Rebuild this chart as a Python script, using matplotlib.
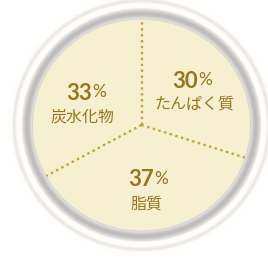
"""Nutrient balance pie (PFC ratio) with a bevelled plate rim."""

import matplotlib
matplotlib.use("Agg")
import matplotlib.pyplot as plt
import numpy as np
from matplotlib.patches import Ellipse

# clockwise from 12 o'clock
LABELS = ["たんぱく質", "脂質", "炭水化物"]
VALUES = [30, 37, 33]

CREAM = "#f6f0d0"
GOLD = "#957620"
DOT = "#c2a23a"

W, H = 268, 259
CX, CY = 141.5, 125.0          # disc centre, pixels from top-left
RX, RY = 108.5, 105.5          # disc half-axes

# label anchor points in pixels (number centre, name centre)
LABEL_POS = {
    "たんぱく質": ((191, 81), (194, 104)),
    "脂質": ((147, 180), (147, 204)),
    "炭水化物": ((85, 93), (83, 117)),
}


def rim_color(d):
    # grey shading of the plate rim, d = pixels outside the cream disc
    if d < 1.5:
        g = 0.84
    elif d < 12:
        g = 0.74 + 0.24 * (abs(d - 6.0) / 6.0) ** 1.5
    elif d < 16:
        g = 1.0
    elif d < 22:
        g = 0.91 + 0.09 * abs(d - 19) / 3
    else:
        g = 1.0
    return (g, g * 0.995, g * 0.985)


fig = plt.figure(figsize=(W / 100, H / 100), dpi=100)
fig.patch.set_facecolor("white")

bg = fig.add_axes([0, 0, 1, 1])
bg.set_xlim(0, W)
bg.set_ylim(H, 0)
bg.axis("off")

for d in np.arange(25, 0, -0.5):
    bg.add_patch(Ellipse((CX, CY), 2 * (RX + d), 2 * (RY + d),
                         facecolor=rim_color(d), edgecolor="none"))

# pie axes sits exactly on the disc bounding box
pax = fig.add_axes([(CX - RX) / W, 1 - (CY + RY) / H, 2 * RX / W, 2 * RY / H])
pax.pie(VALUES, startangle=90, counterclock=False, radius=1,
        colors=[CREAM] * len(VALUES), wedgeprops=dict(linewidth=0))
pax.set_aspect("auto")
pax.set_xlim(-1, 1)
pax.set_ylim(-1, 1)
pax.axis("off")

# dotted dividers at slice boundaries
bounds = 90 - 360 * np.cumsum([0] + VALUES[:-1]) / sum(VALUES)
for a in np.radians(bounds):
    pax.plot([0, np.cos(a)], [0, np.sin(a)], color=DOT, lw=1.7,
             linestyle=(0, (1, 1.5)), solid_capstyle="butt")

# labels
txt = fig.add_axes([0, 0, 1, 1])
txt.set_xlim(0, W)
txt.set_ylim(H, 0)
txt.axis("off")
for name, val in zip(LABELS, VALUES):
    (nx, ny), (lx, ly) = LABEL_POS[name]
    t = txt.text(nx - 6, ny, str(val), ha="center", va="center",
                 fontsize=16, fontweight="bold", family="Lato", color=GOLD)
    txt.annotate("%", xy=(1.02, 0.92), xycoords=t, ha="left", va="top",
                 fontsize=12.5, family="Lato", color=GOLD)
    txt.text(lx, ly, name, ha="center", va="center", fontsize=11.5,
             family=["Noto Sans CJK JP", "DejaVu Sans"], color=GOLD)

fig.savefig("out.png", dpi=100, facecolor="white")
